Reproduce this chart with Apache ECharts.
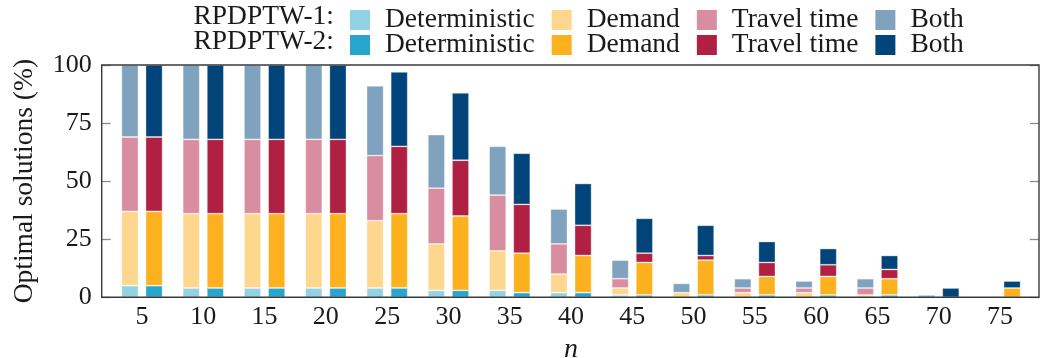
<!DOCTYPE html>
<html>
<head>
<meta charset="utf-8">
<script src="https://cdn.jsdelivr.net/npm/echarts@6/dist/echarts.min.js"></script>
<style>
html,body{margin:0;padding:0;background:#fff;}
#chart{width:1041px;height:358px;}
</style>
</head>
<body>
<div id="chart"></div>
<script>
// ---- data ----
const categories = ['5','10','15','20','25','30','35','40','45','50','55','60','65','70','75'];
const groupLabels = ['RPDPTW-1:', 'RPDPTW-2:'];
const kinds = ['Deterministic', 'Demand', 'Travel time', 'Both'];
const yTicks = [0, 25, 50, 75, 100];

// RPDPTW-1 (share of optimal solutions, %, per segment)
const rp1Deterministic = [5, 4, 4, 4, 4, 3, 3, 2, 1, 0, 0, 0, 0, 0, 0];
const rp1Demand        = [32, 32, 32, 32, 29, 20, 17, 8, 3, 2, 2, 2, 1, 0, 0];
const rp1TravelTime    = [32, 32, 32, 32, 28, 24, 24, 13, 4, 0, 2, 2, 3, 0, 0];
const rp1Both          = [31, 32, 32, 32, 30, 23, 21, 15, 8, 4, 4, 3, 4, 1, 0];

// RPDPTW-2
const rp2Deterministic = [5, 4, 4, 4, 4, 3, 2, 2, 1, 1, 1, 1, 1, 0, 0];
const rp2Demand        = [32, 32, 32, 32, 32, 32, 17, 16, 14, 15, 8, 8, 7, 0, 4];
const rp2TravelTime    = [32, 32, 32, 32, 29, 24, 21, 13, 4, 2, 6, 5, 4, 0, 0];
const rp2Both          = [31, 32, 32, 32, 32, 29, 22, 18, 15, 13, 9, 7, 6, 4, 3];

const rp1Colors = ['#92D2E4', '#FDD78D', '#D88DA0', '#7FA2BE'];
const rp2Colors = ['#26A5CE', '#FDB11E', '#AF2043', '#004479'];

const rp1 = [rp1Deterministic, rp1Demand, rp1TravelTime, rp1Both];
const rp2 = [rp2Deterministic, rp2Demand, rp2TravelTime, rp2Both];

const FONT = '"Liberation Serif", "DejaVu Serif", serif';
const TXT = '#1a1a1a';

const series = [];
function addGroup(prefix, arrs, colors, stack) {
  arrs.forEach((arr, i) => {
    series.push({
      name: prefix + ' ' + kinds[i],
      type: 'bar',
      stack: stack,
      barWidth: 17,
      barGap: '42%',
      data: arr.map(v => v === 0 ? '-' : v),
      itemStyle: { color: colors[i], borderColor: 'rgba(255,255,255,0.45)', borderWidth: 0.8 },
      emphasis: { disabled: true },
      animation: false
    });
  });
}
addGroup('RPDPTW-1', rp1, rp1Colors, 'one');
addGroup('RPDPTW-2', rp2, rp2Colors, 'two');

const chart = echarts.init(document.getElementById('chart'), null, { renderer: 'canvas' });

const gridLeft = 111.35, gridRight = 10.35, gridTop = 65, gridBottom = 60.7;
const frameL = 101.7, frameR = 1039, frameT = 65, frameB = 297.3;

function legendFor(prefix, top) {
  return {
    top: top, left: 350, padding: 0,
    orient: 'horizontal',
    itemWidth: 20, itemHeight: 20, itemGap: 17,
    icon: 'rect',
    selectedMode: false,
    data: kinds.map(k => prefix + ' ' + k),
    formatter: name => name.substring(prefix.length + 1),
    itemStyle: { borderWidth: 0 },
    textStyle: { fontFamily: FONT, fontSize: 27.5, color: TXT, padding: [0, 0, 0, 10] }
  };
}

chart.setOption({
  animation: false,
  backgroundColor: '#ffffff',
  grid: { left: gridLeft, right: gridRight, top: gridTop, bottom: gridBottom,
          containLabel: false, outerBoundsMode: 'none' },
  legend: [legendFor('RPDPTW-1', 6), legendFor('RPDPTW-2', 31)],
  xAxis: {
    type: 'category',
    data: categories,
    boundaryGap: true,
    axisLine: { show: false },
    axisTick: { show: false },
    axisLabel: { fontFamily: FONT, fontSize: 26, color: TXT, margin: 7 },
    name: 'n',
    nameLocation: 'middle',
    nameGap: 38,
    nameTextStyle: { fontFamily: FONT, fontSize: 28, fontStyle: 'italic', color: TXT }
  },
  yAxis: [{
    type: 'value', min: 0, max: 100, interval: 25,
    position: 'left', offset: gridLeft - frameL,
    axisLine: { show: false },
    axisTick: { show: true, inside: true, length: 9, lineStyle: { color: '#8a8a8a', width: 1.3 } },
    splitLine: { show: false },
    axisLabel: { fontFamily: FONT, fontSize: 26, color: TXT, margin: 10,
      customValues: yTicks },
    name: 'Optimal solutions (%)',
    nameLocation: 'middle',
    nameGap: 63,
    nameTextStyle: { fontFamily: FONT, fontSize: 27.5, color: TXT }
  }, {
    type: 'value', min: 0, max: 100, interval: 25,
    position: 'right', offset: frameR - (1041 - gridRight),
    axisLine: { show: false },
    axisTick: { show: true, inside: true, length: 9, lineStyle: { color: '#8a8a8a', width: 1.3 } },
    splitLine: { show: false },
    axisLabel: { show: false }
  }],
  graphic: [
    { type: 'rect', z: 100, silent: true,
      shape: { x: frameL, y: frameT, width: frameR - frameL, height: frameB - frameT },
      style: { fill: null, stroke: '#3a3a3a', lineWidth: 1.4 } },
    { type: 'text', silent: true, x: 334, y: 17,
      style: { text: groupLabels[0], font: '27.5px ' + FONT, fill: TXT, align: 'right', verticalAlign: 'middle' } },
    { type: 'text', silent: true, x: 334, y: 42,
      style: { text: groupLabels[1], font: '27.5px ' + FONT, fill: TXT, align: 'right', verticalAlign: 'middle' } }
  ],
  series: series
});
</script>
</body>
</html>
